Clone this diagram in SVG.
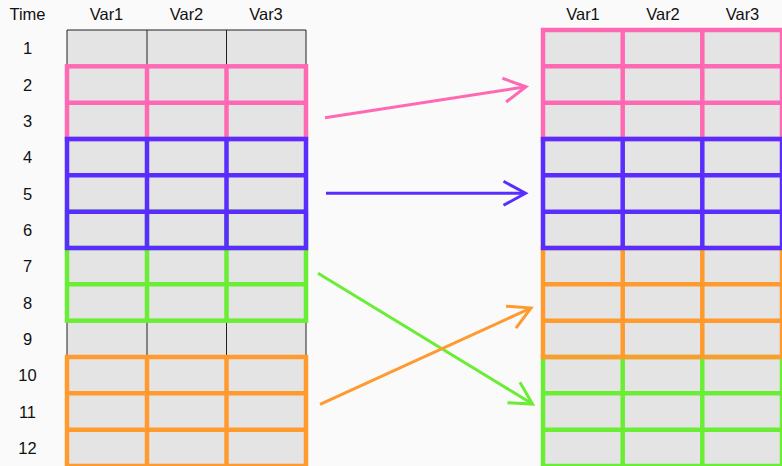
<svg xmlns="http://www.w3.org/2000/svg" width="782" height="466" viewBox="0 0 782 466">
  <style>
    text { font-family: "Liberation Sans", Arial, sans-serif; font-size: 16.5px; fill: #111; text-anchor: middle; }
    .cell { fill: #e4e4e4; }
    .grid { fill: none; stroke: #222; stroke-width: 1; }
    .blk { fill: none; stroke-width: 4.5; }
    .pink { stroke: #ff69b4; }
    .blue { stroke: #5a2dff; }
    .green { stroke: #6aed35; }
    .orange { stroke: #ff9a2e; }
    .arrow { fill: none; stroke-width: 3; }
  </style>
  <defs>
    <marker id="head-pink" markerUnits="userSpaceOnUse" markerWidth="30" markerHeight="30" viewBox="-26 -15 30 30" refX="0" refY="0" orient="auto">
      <path d="M-22,-12 L0,0 L-22,12" fill="none" stroke="#ff69b4" stroke-width="3"/>
    </marker>
    <marker id="head-blue" markerUnits="userSpaceOnUse" markerWidth="30" markerHeight="30" viewBox="-26 -15 30 30" refX="0" refY="0" orient="auto">
      <path d="M-22,-12 L0,0 L-22,12" fill="none" stroke="#5a2dff" stroke-width="3"/>
    </marker>
    <marker id="head-green" markerUnits="userSpaceOnUse" markerWidth="30" markerHeight="30" viewBox="-26 -15 30 30" refX="0" refY="0" orient="auto">
      <path d="M-22,-12 L0,0 L-22,12" fill="none" stroke="#6aed35" stroke-width="3"/>
    </marker>
    <marker id="head-orange" markerUnits="userSpaceOnUse" markerWidth="30" markerHeight="30" viewBox="-26 -15 30 30" refX="0" refY="0" orient="auto">
      <path d="M-22,-12 L0,0 L-22,12" fill="none" stroke="#ff9a2e" stroke-width="3"/>
    </marker>
  </defs>

  <rect width="782" height="466" fill="#fafafa"/>

  <!-- column headers -->
  <g id="headers">
    <text x="27.5" y="19.5">Time</text>
    <text x="106.5" y="19.5">Var1</text>
    <text x="186.5" y="19.5">Var2</text>
    <text x="266" y="19.5">Var3</text>
    <text x="583" y="19.5">Var1</text>
    <text x="663" y="19.5">Var2</text>
    <text x="742.5" y="19.5">Var3</text>
  </g>

  <!-- time labels -->
  <g id="time-labels">
    <text x="27.5" y="54.2">1</text>
    <text x="27.5" y="90.5">2</text>
    <text x="27.5" y="126.8">3</text>
    <text x="27.5" y="163.2">4</text>
    <text x="27.5" y="199.5">5</text>
    <text x="27.5" y="235.8">6</text>
    <text x="27.5" y="272.2">7</text>
    <text x="27.5" y="308.5">8</text>
    <text x="27.5" y="344.8">9</text>
    <text x="27.5" y="381.2">10</text>
    <text x="27.5" y="417.5">11</text>
    <text x="27.5" y="453.8">12</text>
  </g>

  <!-- original series: 12 time steps x 3 variables -->
  <g id="source-table">
    <rect class="cell" x="67" y="30" width="239" height="436"/>
    <path class="grid" d="M67,30 H306 V466 M67,30 V466 M147,30 V466 M226.5,30 V466
      M67,66.33 H306 M67,102.67 H306 M67,139 H306 M67,175.33 H306 M67,211.67 H306
      M67,248 H306 M67,284.33 H306 M67,320.67 H306 M67,357 H306 M67,393.33 H306 M67,429.67 H306"/>
    <g id="src-pink">
      <rect class="blk pink" x="67" y="66.33" width="239" height="72.67"/>
      <path class="blk pink" d="M147,66.33 V139 M226.5,66.33 V139 M67,102.67 H306"/>
    </g>
    <g id="src-orange">
      <rect class="blk orange" x="67" y="357" width="239" height="109"/>
      <path class="blk orange" d="M147,357 V466 M226.5,357 V466 M67,393.33 H306 M67,429.67 H306"/>
    </g>
    <g id="src-green">
      <rect class="blk green" x="67" y="211.67" width="239" height="109"/>
      <path class="blk green" d="M147,211.67 V320.67 M226.5,211.67 V320.67 M67,248 H306 M67,284.33 H306"/>
    </g>
    <g id="src-blue">
      <rect class="blk blue" x="67" y="139" width="239" height="109"/>
      <path class="blk blue" d="M147,139 V248 M226.5,139 V248 M67,175.33 H306 M67,211.67 H306"/>
    </g>
  </g>

  <!-- reordered windows -->
  <g id="target-table">
    <rect class="cell" x="543" y="30" width="239" height="436"/>
    <g id="dst-pink">
      <rect class="blk pink" x="543" y="30" width="239" height="109"/>
      <path class="blk pink" d="M622.7,30 V139 M702.3,30 V139 M543,66.33 H782 M543,102.67 H782"/>
    </g>
    <g id="dst-green">
      <rect class="blk green" x="543" y="357" width="239" height="109"/>
      <path class="blk green" d="M622.7,357 V466 M702.3,357 V466 M543,393.33 H782 M543,429.67 H782"/>
    </g>
    <g id="dst-orange">
      <rect class="blk orange" x="543" y="248" width="239" height="109"/>
      <path class="blk orange" d="M622.7,248 V357 M702.3,248 V357 M543,284.33 H782 M543,320.67 H782"/>
    </g>
    <g id="dst-blue">
      <rect class="blk blue" x="543" y="139" width="239" height="109"/>
      <path class="blk blue" d="M622.7,139 V248 M702.3,139 V248 M543,175.33 H782 M543,211.67 H782"/>
    </g>
  </g>

  <g id="connectors">
    <line class="arrow pink" x1="325" y1="117.7" x2="526" y2="86.8" marker-end="url(#head-pink)"/>
    <line class="arrow blue" x1="326" y1="193.3" x2="525.5" y2="193.3" marker-end="url(#head-blue)"/>
    <line class="arrow green" x1="318" y1="273.3" x2="532.5" y2="404" marker-end="url(#head-green)"/>
    <line class="arrow orange" x1="320" y1="404.3" x2="531" y2="308" marker-end="url(#head-orange)"/>
  </g>
</svg>
